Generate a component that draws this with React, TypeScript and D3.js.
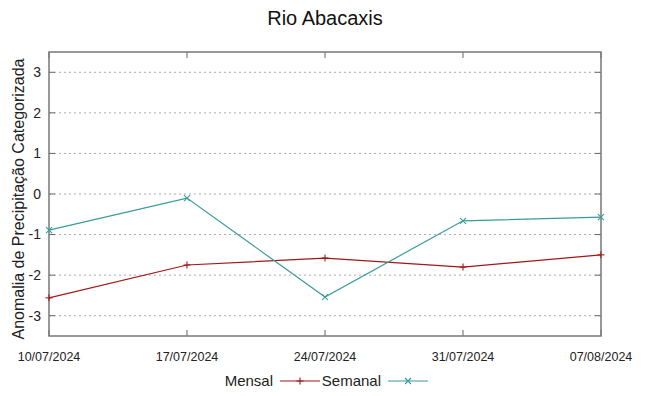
import React, { useEffect, useRef } from "react";
import * as d3 from "d3";

const dates = ["10/07/2024", "17/07/2024", "24/07/2024", "31/07/2024", "07/08/2024"];
const mensal = [-2.56, -1.75, -1.58, -1.8, -1.5];
const semanal = [-0.89, -0.1, -2.54, -0.66, -0.57];
const yTicks = [-3, -2, -1, 0, 1, 2, 3];

const W = 649;
const H = 396;
const margin = { top: 52, right: 48, bottom: 60, left: 49 };

function App() {
  const ref = useRef<SVGSVGElement>(null);

  useEffect(() => {
    const svg = d3.select(ref.current);
    svg.selectAll("*").remove();

    const parse = d3.timeParse("%d/%m/%Y");
    const times = dates.map((d) => parse(d) as Date);

    const x = d3
      .scaleTime()
      .domain([times[0], times[times.length - 1]])
      .range([margin.left, W - margin.right]);
    const y = d3
      .scaleLinear()
      .domain([-3.5, 3.5])
      .range([H - margin.bottom, margin.top]);

    const x0 = margin.left;
    const x1 = W - margin.right;
    const y0 = H - margin.bottom;
    const y1 = margin.top;

    // grid
    svg
      .append("g")
      .selectAll("line")
      .data(yTicks)
      .join("line")
      .attr("x1", x0)
      .attr("x2", x1)
      .attr("y1", (d) => y(d))
      .attr("y2", (d) => y(d))
      .attr("stroke", "#aaa")
      .attr("stroke-width", 1)
      .attr("stroke-dasharray", "2,3");

    // tick marks, mirrored on all sides
    const tk = svg.append("g").attr("stroke", "#666").attr("stroke-width", 1);
    yTicks.forEach((t) => {
      tk.append("line").attr("x1", x0).attr("x2", x0 + 6).attr("y1", y(t)).attr("y2", y(t));
      tk.append("line").attr("x1", x1).attr("x2", x1 - 6).attr("y1", y(t)).attr("y2", y(t));
    });
    times.forEach((t) => {
      tk.append("line").attr("x1", x(t)).attr("x2", x(t)).attr("y1", y0).attr("y2", y0 - 6);
      tk.append("line").attr("x1", x(t)).attr("x2", x(t)).attr("y1", y1).attr("y2", y1 + 6);
    });

    // border
    svg
      .append("rect")
      .attr("x", x0)
      .attr("y", y1)
      .attr("width", x1 - x0)
      .attr("height", y0 - y1)
      .attr("fill", "none")
      .attr("stroke", "#777")
      .attr("stroke-width", 1.5);

    // y labels
    svg
      .append("g")
      .selectAll("text")
      .data(yTicks)
      .join("text")
      .attr("x", x0 - 8)
      .attr("y", (d) => y(d))
      .attr("dy", "0.35em")
      .attr("text-anchor", "end")
      .attr("font-family", "Liberation Sans, Arial, sans-serif")
      .attr("font-size", 14)
      .attr("fill", "#222")
      .text((d) => d);

    // x labels
    svg
      .append("g")
      .selectAll("text")
      .data(times)
      .join("text")
      .attr("x", (d) => x(d))
      .attr("y", y0 + 25)
      .attr("text-anchor", "middle")
      .attr("font-family", "Liberation Sans Narrow, Arial Narrow, sans-serif")
      .attr("font-size", 12.5)
      .attr("fill", "#222")
      .text((_, i) => dates[i]);

    // title
    svg
      .append("text")
      .attr("x", 325)
      .attr("y", 25)
      .attr("text-anchor", "middle")
      .attr("font-family", "Liberation Sans, Arial, sans-serif")
      .attr("font-size", 20)
      .attr("fill", "#111")
      .text("Rio Abacaxis");

    // y axis title
    svg
      .append("text")
      .attr("transform", `translate(24,${(y0 + y1) / 2 + 5}) rotate(-90)`)
      .attr("text-anchor", "middle")
      .attr("font-family", "Liberation Sans, Arial, sans-serif")
      .attr("font-size", 16)
      .attr("fill", "#222")
      .text("Anomalia de Precipitação Categorizada");

    const series = [
      { name: "Mensal", values: mensal, color: "#a01818", mark: "plus" },
      { name: "Semanal", values: semanal, color: "#3a9a9a", mark: "cross" },
    ];

    const line = d3
      .line<number>()
      .x((_, i) => x(times[i]))
      .y((d) => y(d));

    const drawMark = (g: any, cx: number, cy: number, mark: string, color: string) => {
      const s = 3.5;
      if (mark === "plus") {
        g.append("line").attr("x1", cx - s).attr("x2", cx + s).attr("y1", cy).attr("y2", cy).attr("stroke", color);
        g.append("line").attr("x1", cx).attr("x2", cx).attr("y1", cy - s).attr("y2", cy + s).attr("stroke", color);
      } else {
        const c = 3;
        g.append("line").attr("x1", cx - c).attr("x2", cx + c).attr("y1", cy - c).attr("y2", cy + c).attr("stroke", color);
        g.append("line").attr("x1", cx - c).attr("x2", cx + c).attr("y1", cy + c).attr("y2", cy - c).attr("stroke", color);
      }
    };

    series.forEach((s) => {
      svg
        .append("path")
        .attr("d", line(s.values))
        .attr("fill", "none")
        .attr("stroke", s.color)
        .attr("stroke-width", 1.2);
      const g = svg.append("g").attr("stroke-width", 1.1);
      s.values.forEach((v, i) => drawMark(g, x(times[i]), y(v), s.mark, s.color));
    });

    // legend
    const ly = 381;
    const lg = svg.append("g");
    const legendPos = [
      { textX: 273, lineX: 280 },
      { textX: 381, lineX: 388 },
    ];
    series.forEach((s, i) => {
      const p = legendPos[i];
      lg.append("text")
        .attr("x", p.textX)
        .attr("y", ly)
        .attr("dy", "0.35em")
        .attr("text-anchor", "end")
        .attr("font-family", "Liberation Sans Narrow, Arial Narrow, sans-serif")
        .attr("font-size", 15)
        .attr("fill", "#222")
        .text(s.name);
      lg.append("line")
        .attr("x1", p.lineX)
        .attr("x2", p.lineX + 40)
        .attr("y1", ly)
        .attr("y2", ly)
        .attr("stroke", s.color)
        .attr("stroke-width", 1.2);
      drawMark(lg.append("g").attr("stroke-width", 1.1), p.lineX + 20, ly, s.mark, s.color);
    });
  }, []);

  return <svg ref={ref} width={W} height={H} style={{ position: "absolute", left: 0, top: 0 }} />;
}

export default App;
